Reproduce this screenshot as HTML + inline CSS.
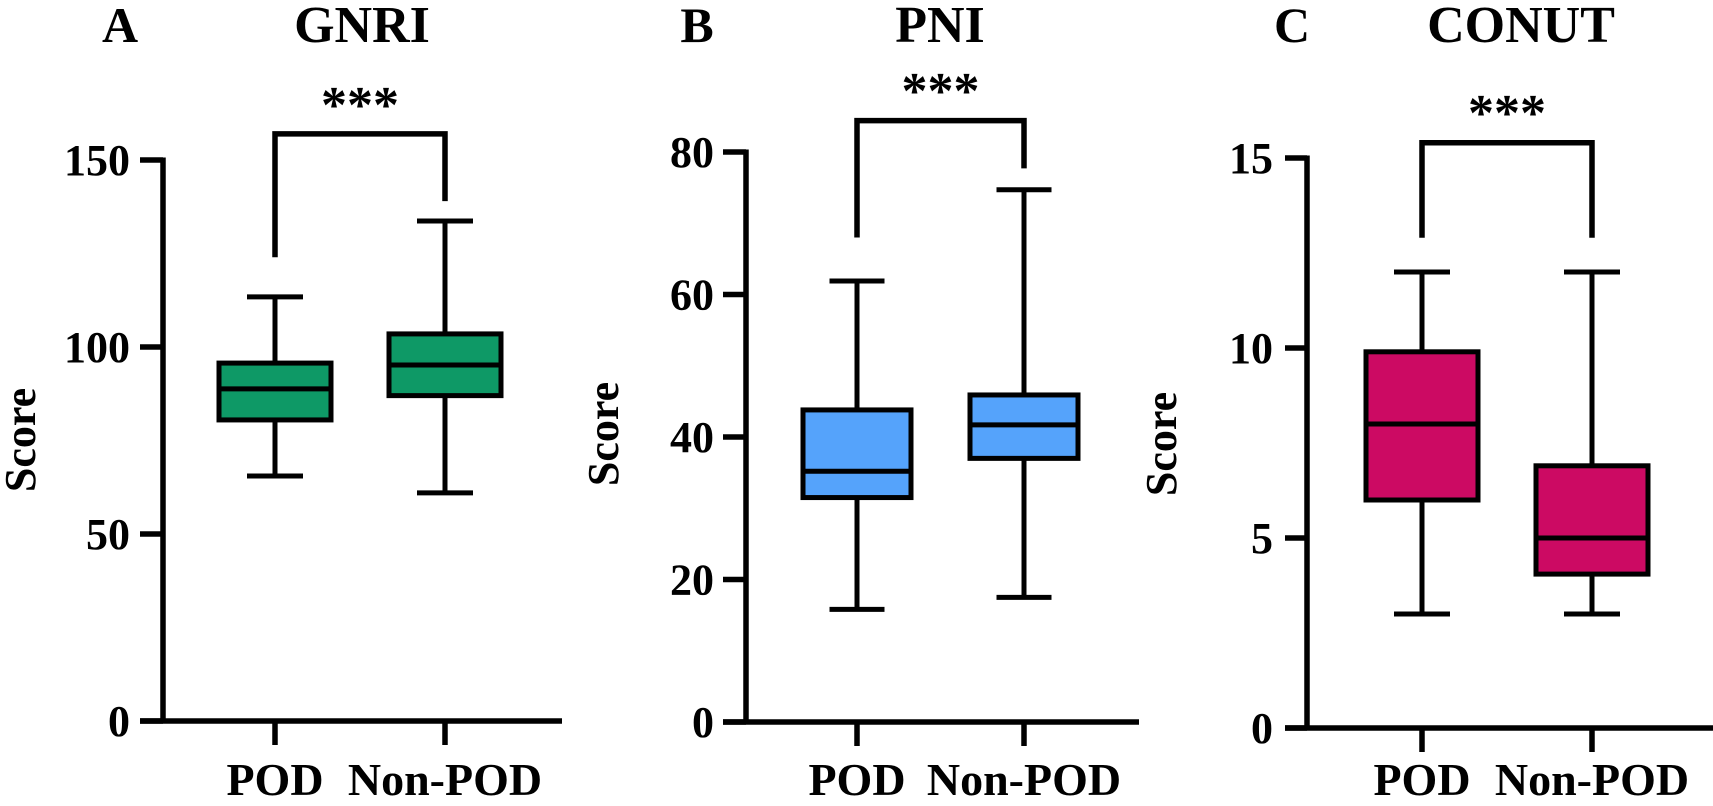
<!DOCTYPE html>
<html><head><meta charset="utf-8"><style>
html,body{margin:0;padding:0;background:#fff;}
svg{display:block;}
text{font-family:"Liberation Serif","Times New Roman",serif;font-weight:bold;fill:#000;}
</style></head><body>
<svg id="fig" width="1713" height="806" viewBox="0 0 1713 806" xmlns="http://www.w3.org/2000/svg"></svg>
<script>
// ---- data ----
const categories = ["POD", "Non-POD"];
const gnriPOD = [65.5, 80.5, 88.8, 95.7, 113.4];
const gnriNon = [61, 87, 95.2, 103.5, 133.7];
const pniPOD = [15.8, 31.5, 35.2, 43.8, 61.9];
const pniNon = [17.5, 37, 41.7, 45.9, 74.7];
const conutPOD = [3, 6, 8, 9.9, 12];
const conutNon = [3, 4.05, 5, 6.9, 12];
const gnriTicks = [0, 50, 100, 150];
const pniTicks = [0, 20, 40, 60, 80];
const conutTicks = [0, 5, 10, 15];
const gnriBracket = [124, 139, 157];
const pniBracket = [68, 77.7, 84.4];
const conutBracket = [12.9, 12.9, 15.4];

const NS = "http://www.w3.org/2000/svg";
const svg = document.getElementById("fig");
function mk(tag, attrs, parent) {
  const e = document.createElementNS(NS, tag);
  for (const k in attrs) e.setAttribute(k, attrs[k]);
  if (tag === "text") {
    e.setAttribute("font-family", '"Liberation Serif", "Times New Roman", serif');
    e.setAttribute("font-weight", "bold");
  }
  (parent || svg).appendChild(e);
  return e;
}

const panels = [
  {key:"gnri", letter:"A", title:"GNRI", color:"#0e9966", data:[gnriPOD,gnriNon], ticks:gnriTicks, br:gnriBracket,
   ax:163, y0:721, ytop:160, max:150, xl:140, xr:562, cx:[275,445], bw:112, cw:56,
   letterX:120, titleX:362, scoreX:20, scoreY:440, starY:100, labelRight:130},
  {key:"pni", letter:"B", title:"PNI", color:"#55a3fb", data:[pniPOD,pniNon], ticks:pniTicks, br:pniBracket,
   ax:746, y0:722, ytop:152, max:80, xl:723, xr:1139, cx:[857,1024], bw:108, cw:55,
   letterX:697, titleX:940, scoreX:603, scoreY:434, starY:86, labelRight:714},
  {key:"conut", letter:"C", title:"CONUT", color:"#cc0a63", data:[conutPOD,conutNon], ticks:conutTicks, br:conutBracket,
   ax:1307, y0:728, ytop:158, max:15, xl:1285, xr:1713, cx:[1422,1592], bw:112, cw:56,
   letterX:1292, titleX:1521, scoreX:1161, scoreY:444, starY:108, labelRight:1273}
];

panels.forEach(p => {
  const g = mk("g", {});
  
  
  const y = v => p.y0 - (v / p.max) * (p.y0 - p.ytop);

  const lt = mk("text", {x:p.letterX, y:42, "font-size":50, "text-anchor":"middle"}, g);
  lt.textContent = p.letter;
  
  
  const tt = mk("text", {x:p.titleX, y:42, "font-size":52, "text-anchor":"middle"}, g);
  tt.textContent = p.title;
  
  

  const sc = mk("text", {x:0, y:0, "font-size":44, "text-anchor":"middle",
    transform:`translate(${p.scoreX + 15},${p.scoreY}) rotate(-90)`}, g);
  sc.textContent = "Score";
  
  

  const ya = mk("line", {x1:p.ax, y1:p.ytop - 2.5, x2:p.ax, y2:p.y0, stroke:"#000", "stroke-width":5.5}, g);
  
  
  const xa = mk("line", {x1:p.xl, y1:p.y0, x2:p.xr, y2:p.y0, stroke:"#000", "stroke-width":5.5}, g);
  
  

  p.ticks.forEach(t => {
    const tl = mk("line", {x1:p.xl, y1:y(t), x2:p.ax, y2:y(t), stroke:"#000", "stroke-width":5.5}, g);
    
    
    const tx = mk("text", {x:p.labelRight, y:y(t) + 15, "font-size":44, "text-anchor":"end"}, g);
    tx.textContent = String(t);
    
    
  });

  categories.forEach((c, i) => {
    const cx = p.cx[i];
    const tk = mk("line", {x1:cx, y1:p.y0, x2:cx, y2:p.y0 + 24, stroke:"#000", "stroke-width":5.5}, g);
    
    
    const lb = mk("text", {x:cx, y:795, "font-size":46, "text-anchor":"middle"}, g);
    lb.textContent = c;
    
    

    const d = p.data[i];
    const bg = mk("g", {}, g);
    
    
    const st = {stroke:"#000", "stroke-width":5};
    mk("line", Object.assign({x1:cx, y1:y(d[0]), x2:cx, y2:y(d[4])}, st), bg);
    mk("line", Object.assign({x1:cx - p.cw/2, y1:y(d[0]), x2:cx + p.cw/2, y2:y(d[0])}, st), bg);
    mk("line", Object.assign({x1:cx - p.cw/2, y1:y(d[4]), x2:cx + p.cw/2, y2:y(d[4])}, st), bg);
    mk("rect", Object.assign({x:cx - p.bw/2, y:y(d[3]), width:p.bw, height:y(d[1]) - y(d[3]), fill:p.color}, st), bg);
    mk("line", Object.assign({x1:cx - p.bw/2, y1:y(d[2]), x2:cx + p.bw/2, y2:y(d[2])}, st), bg);
  });

  const b = p.br;
  const br = mk("polyline", {points:`${p.cx[0]},${y(b[0])} ${p.cx[0]},${y(b[2])} ${p.cx[1]},${y(b[2])} ${p.cx[1]},${y(b[1])}`,
    fill:"none", stroke:"#000", "stroke-width":5.5}, g);
  
  
  const stars = mk("text", {x:(p.cx[0] + p.cx[1]) / 2, y:p.starY + 22, "font-size":52, "text-anchor":"middle"}, g);
  stars.textContent = "***";
  
  
});
</script>
</body></html>
